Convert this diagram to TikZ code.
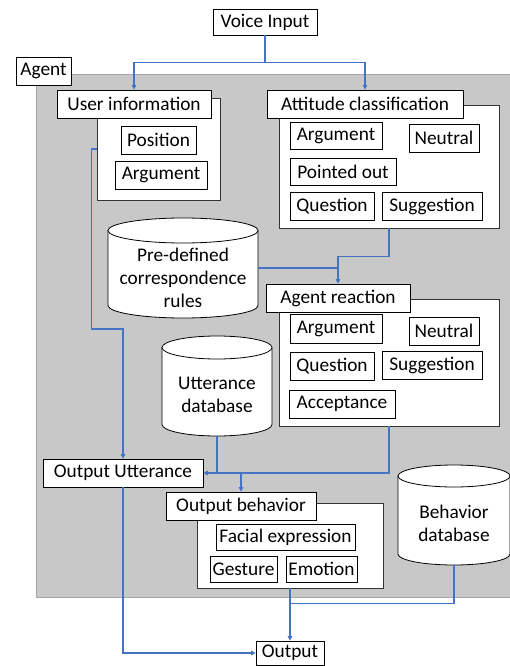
\documentclass[tikz,border=0pt]{standalone}
\usepackage{fontspec}
\setmainfont{Carlito}
\usetikzlibrary{arrows.meta}
\definecolor{lnblue}{RGB}{68,114,196}
\definecolor{agentgray}{RGB}{200,200,200}
\definecolor{agentedge}{RGB}{165,165,165}
\newcommand\mkbox[7][box]{%
  \pgfmathsetmacro\bw{#5-#3}\pgfmathsetmacro\bh{#6-#4}%
  \node[#1, minimum width=\bw bp, minimum height=\bh bp] (#2) at ({(#3+#5)/2},{(#4+#6)/2}) {#7};}
\newcommand\mkcyl[7]{%
  \pgfmathsetmacro\crx{(#4-#2)/2}%
  \draw[cylst] (#2,#3+#6) -- (#2,#5-#6)
     arc[start angle=180,end angle=360,x radius=\crx bp,y radius=#6 bp]
     -- (#4,#3+#6)
     arc[start angle=0,end angle=180,x radius=\crx bp,y radius=#6 bp] -- cycle;
  \draw[cylst] (#2,#3+#6) arc[start angle=180,end angle=360,x radius=\crx bp,y radius=#6 bp];
  \pgfmathsetmacro\bw{#4-#2}\pgfmathsetmacro\bh{#5-#3}%
  \node[minimum width=\bw bp, minimum height=\bh bp, inner sep=0pt] (#1) at ({(#2+#4)/2},{(#3+#5)/2}) {};
  \node[txt, align=center] (#1-t) at ({(#2+#4)/2},{(#3+2*#6+#5)/2-3}) {#7};}
\begin{document}
\begin{tikzpicture}[x=1bp,y=-1bp,
  txt/.style={font=\fontsize{19.4}{23}\selectfont, inner sep=0pt},
  box/.style={txt, draw=black, fill=white, line width=0.8bp},
  cont/.style={draw=black!80, fill=white, line width=0.8bp, inner sep=0pt},
  cylst/.style={draw=black, fill=white, line width=0.8bp},
  ln/.style={draw=lnblue, line width=1.4bp},
  arr/.style={ln, -{Triangle[length=4.5bp,width=4.5bp]}}
]
\useasboundingbox (0,0) rectangle (510,666);
% agent region
\fill[agentgray] (36,74) rectangle (512,597);
\draw[agentedge, line width=0.8bp] (512,74) -- (36,74) -- (36,597) -- (512,597);
\mkbox{agent}{16}{57}{71}{85}{Agent}
\mkbox{vi}{213}{9}{317}{35}{Voice Input}
% user information
\mkbox[cont]{uic}{97}{98}{220}{200}{}
\mkbox{ui}{57}{90}{211}{118}{User information}
\mkbox{pos}{121}{126}{196}{154}{Position}
\mkbox{uarg}{115}{161}{207}{189}{Argument}
% attitude classification
\mkbox[cont]{attc}{279}{105}{499}{228}{}
\mkbox{att}{267}{90}{463}{118}{Attitude classification}
\mkbox{a1}{290}{122}{382}{149}{Argument}
\mkbox{a2}{409}{124}{479}{152}{Neutral}
\mkbox{a3}{290}{158}{396}{185}{Pointed out}
\mkbox{a4}{290}{192}{374}{220}{Question}
\mkbox{a5}{382}{192}{482}{220}{Suggestion}
% rules
\mkcyl{pdc}{108}{218}{258}{318}{12.5}{Pre-defined\\correspondence\\rules}
% agent reaction
\mkbox[cont]{arcn}{279}{299}{499}{426}{}
\mkbox{ar}{266}{284}{410}{312}{Agent reaction}
\mkbox{r1}{290}{314}{382}{343}{Argument}
\mkbox{r2}{409}{317}{479}{345}{Neutral}
\mkbox{r3}{290}{352}{374}{380}{Question}
\mkbox{r4}{382}{351}{482}{379}{Suggestion}
\mkbox{r5}{289}{390}{395}{418}{Acceptance}
% utterance db
\mkcyl{udb}{162}{336}{272}{436}{11.5}{Utterance\\database}
% output utterance
\mkbox{ou}{43}{459}{203}{487}{Output Utterance}
% output behavior
\mkbox[cont]{obc}{197}{503}{383}{588}{}
\mkbox{ob}{166}{492}{316}{520}{Output behavior}
\mkbox{b1}{216}{524}{355}{550}{Facial expression}
\mkbox{b2}{210}{556}{277}{582}{Gesture}
\mkbox{b3}{286}{556}{357}{582}{Emotion}
% behavior db
\mkcyl{bdb}{398}{465}{510}{565}{11}{Behavior\\database}
% output
\mkbox{out}{256}{641}{324}{665}{Output}
% connectors
\draw[arr] (vi.south) -- ++(0,27) -| (ui.north);
\draw[arr] (vi.south) -- ++(0,27) -| (att.north);
\draw[arr] (uic.west) -- ++(-5,0) -- ++(0,180) -| (ou.north);
\draw[arr] (attc.south) -- ++(0,28) -| (ar.north);
\draw[ln] (pdc.east) -- (pdc.east -| ar.north);
\draw[arr] (arcn.south) |- (ou.east);
\draw[ln] (udb.south) -- (udb.south |- ou.east);
\draw[arr] (ob.north |- ou.east) -- (ob.north);
\draw[arr] (obc.south) -- (out.north);
\draw[ln] (bdb.south) -- ++(0,38.5) -| (obc.south);
\draw[arr] (ou.south) |- (out.west);
\end{tikzpicture}
\end{document}
